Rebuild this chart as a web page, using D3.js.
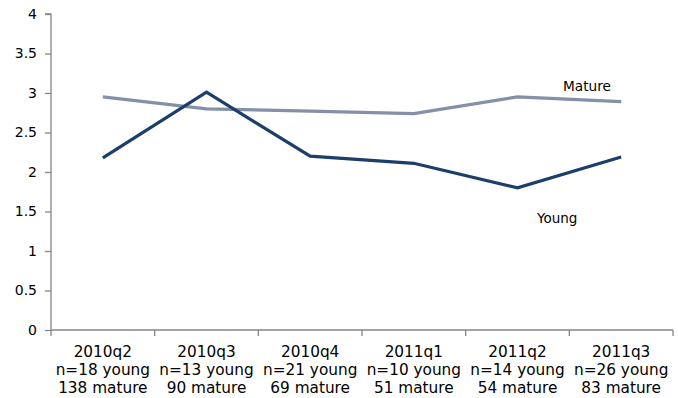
<!DOCTYPE html>
<html>
<head>
<meta charset="utf-8">
<script src="https://cdn.jsdelivr.net/npm/d3@7"></script>
<style>
  html, body { margin: 0; padding: 0; background: #fff; }
  svg text { font-family: "DejaVu Sans", sans-serif; fill: #000; }
</style>
</head>
<body>
<svg id="chart" width="678" height="398"></svg>
<script>
// Quarterly survey periods with sample sizes
const quarters = ["2010q2", "2010q3", "2010q4", "2011q1", "2011q2", "2011q3"];
const youngN = [18, 13, 21, 10, 14, 26];
const matureN = [138, 90, 69, 51, 54, 83];

// Average score by firm age group
const youngValues = [2.18, 3.01, 2.20, 2.11, 1.80, 2.19];
const matureValues = [2.95, 2.80, 2.77, 2.74, 2.95, 2.89];

const yTicks = [0, 0.5, 1, 1.5, 2, 2.5, 3, 3.5, 4];

const svg = d3.select("#chart");
const margin = { left: 51, right: 5, top: 14, bottom: 68 };
const W = 678, H = 398;

const x = d3.scaleBand().domain(quarters).range([margin.left, 673]);
const y = d3.scaleLinear().domain([0, 4]).range([H - margin.bottom, margin.top]);

const axisColor = "#868686";

// Y axis
const yAxis = svg.append("g")
  .attr("transform", `translate(${margin.left},0)`)
  .call(d3.axisLeft(y).tickValues(yTicks).tickSize(6).tickPadding(8)
    .tickFormat(d => String(d)));
yAxis.selectAll("path, line").attr("stroke", axisColor).attr("stroke-width", 1.3);
yAxis.select(".domain").attr("d", `M-6,${y(4)}H0V${y(0)}`);
yAxis.selectAll("text").attr("font-size", 14).attr("fill", "#000");

// X axis with boundary ticks between categories
const xg = svg.append("g").attr("transform", `translate(0,${y(0)})`);
xg.append("line")
  .attr("x1", margin.left).attr("x2", x.range()[1])
  .attr("stroke", axisColor).attr("stroke-width", 1.3);
const bounds = quarters.map(q => x(q)).concat([x.range()[1]]);
xg.selectAll("line.tick").data(bounds).join("line")
  .attr("class", "tick")
  .attr("x1", d => d).attr("x2", d => d)
  .attr("y1", 0).attr("y2", 6)
  .attr("stroke", axisColor).attr("stroke-width", 1.3);

const labels = xg.selectAll("text.cat").data(quarters).join("text")
  .attr("class", "cat")
  .attr("text-anchor", "middle")
  .attr("font-size", 15.3);
labels.each(function(q, i) {
  const t = d3.select(this);
  const cx = x(q) + x.bandwidth() / 2;
  t.append("tspan").attr("x", cx).attr("y", 27).text(q);
  t.append("tspan").attr("x", cx).attr("y", 45).text(`n=${youngN[i]} young`);
  t.append("tspan").attr("x", cx).attr("y", 63).text(`${matureN[i]} mature`);
});

// Series lines
const line = d3.line()
  .x((d, i) => x(quarters[i]) + x.bandwidth() / 2)
  .y(d => y(d));

svg.append("path").datum(matureValues)
  .attr("d", line).attr("fill", "none")
  .attr("stroke", "#8390a8").attr("stroke-width", 3.2);

svg.append("path").datum(youngValues)
  .attr("d", line).attr("fill", "none")
  .attr("stroke", "#1d3d6b").attr("stroke-width", 3.2);

// Series labels
svg.append("text").attr("x", 563).attr("y", 91)
  .attr("font-size", 13.7).text("Mature");
svg.append("text").attr("x", 537).attr("y", 223)
  .attr("font-size", 13.5).text("Young");
</script>
</body>
</html>
